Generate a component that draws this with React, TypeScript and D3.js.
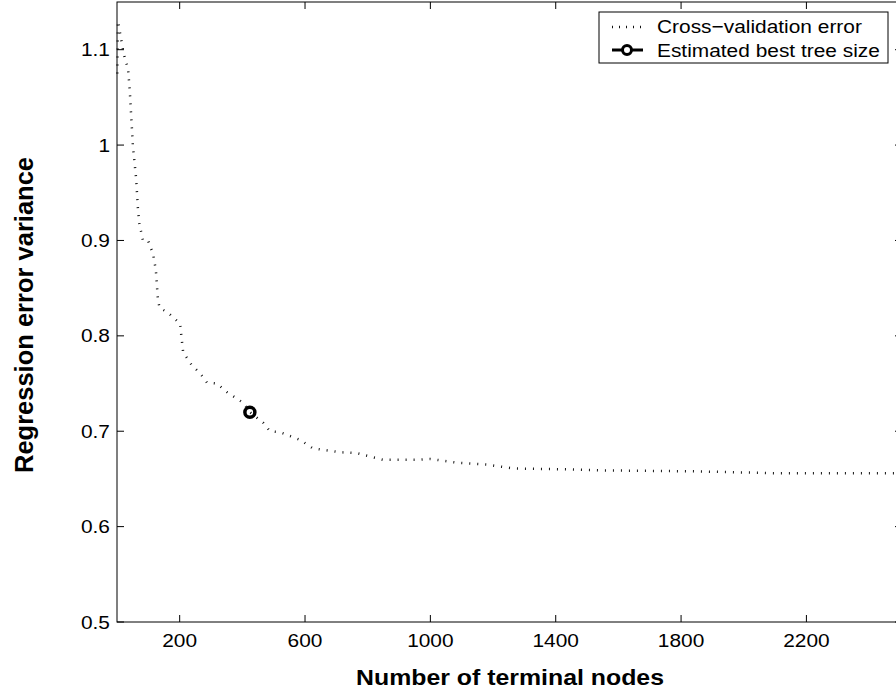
import React from "react";
import * as d3 from "d3";

const nodes = [1, 3, 10, 19, 27, 35, 41, 45, 51, 61, 67, 72, 77, 83, 99, 115, 124, 131, 137, 160, 201, 211, 239, 265, 287, 319, 351, 402, 424, 466, 488, 520, 584, 625, 712, 766, 849, 957, 1000, 1085, 1181, 1264, 1436, 1541, 1838, 2100, 2490];
const cvError = [1.075, 1.13, 1.117, 1.1, 1.088, 1.081, 1.056, 1.032, 0.998, 0.965, 0.932, 0.916, 0.909, 0.9, 0.9, 0.886, 0.869, 0.836, 0.829, 0.825, 0.813, 0.783, 0.769, 0.761, 0.751, 0.75, 0.741, 0.73, 0.72, 0.709, 0.7, 0.699, 0.691, 0.682, 0.678, 0.677, 0.67, 0.67, 0.671, 0.667, 0.665, 0.661, 0.66, 0.659, 0.658, 0.656, 0.656];
const bestSize = [424];
const bestError = [0.72];
const xTicks = [200, 600, 1000, 1400, 1800, 2200];
const yTicks = [0.5, 0.6, 0.7, 0.8, 0.9, 1, 1.1];
const legendLabels = ["Cross\u2212validation error", "Estimated best tree size"];

const SX = 1.13;

function T({ x, y, size, anchor = "start", bold = false, sx = SX, rotate = 0, children }: any) {
  return (
    <text
      transform={`translate(${x},${y}) scale(${sx},1)${rotate ? ` rotate(${rotate})` : ""}`}
      textAnchor={anchor}
      fontSize={size}
      fontWeight={bold ? "bold" : "normal"}
    >
      {children}
    </text>
  );
}

export default function App() {
  const W = 896, H = 692;
  const left = 117, right = 902, top = 2, bottom = 622;
  const x = d3.scaleLinear().domain([0, 2505]).range([left, right]);
  const y = d3.scaleLinear().domain([0.5, 1.15]).range([bottom, top]);
  const line = d3.line<number>().x((d, i) => x(nodes[i])).y((d) => y(d));
  const font = "Liberation Sans, Arial, sans-serif";
  const tl = 7;
  return (
    <svg width={W} height={H} style={{ position: "absolute", left: 0, top: 0 }} fontFamily={font}>
      <rect x={0} y={0} width={W} height={H} fill="#fff" />
      <path d={line(cvError) || ""} fill="none" stroke="#111" strokeWidth={2.5} strokeDasharray="1,7" />
      {bestSize.map((s, i) => (
        <circle key={i} cx={x(s)} cy={y(bestError[i])} r={5} fill="none" stroke="#000" strokeWidth={3.5} />
      ))}
      <rect x={left} y={top} width={right - left} height={bottom - top} fill="none" stroke="#000" strokeWidth={1} />
      {xTicks.map((t) => (
        <g key={t}>
          <line x1={x(t)} x2={x(t)} y1={bottom} y2={bottom - tl} stroke="#000" />
          <line x1={x(t)} x2={x(t)} y1={top} y2={top + tl} stroke="#000" />
          <T x={x(t)} y={647} size={18.5} anchor="middle">{t}</T>
        </g>
      ))}
      {yTicks.map((t) => (
        <g key={t}>
          <line x1={left} x2={left + tl} y1={y(t)} y2={y(t)} stroke="#000" />
          <line x1={right} x2={right - tl} y1={y(t)} y2={y(t)} stroke="#000" />
          <T x={110} y={y(t) + 6.5} size={18.5} anchor="end">{t}</T>
        </g>
      ))}
      <T x={510} y={685} size={22} anchor="middle" bold>Number of terminal nodes</T>
      <T x={33} y={315} size={25.5} anchor="middle" bold sx={1} rotate={-90}>Regression error variance</T>
      <g>
        <rect x={599} y={12} width={289} height={51} fill="#fff" stroke="#000" />
        <line x1={612} x2={643} y1={27} y2={27} stroke="#111" strokeWidth={2.5} strokeDasharray="1,6" />
        <line x1={612} x2={643} y1={50} y2={50} stroke="#000" strokeWidth={3} />
        <circle cx={627} cy={50} r={4.5} fill="#fff" stroke="#000" strokeWidth={3} />
        <T x={657} y={33} size={18.5}>{legendLabels[0]}</T>
        <T x={657} y={57} size={18.5}>{legendLabels[1]}</T>
      </g>
    </svg>
  );
}
